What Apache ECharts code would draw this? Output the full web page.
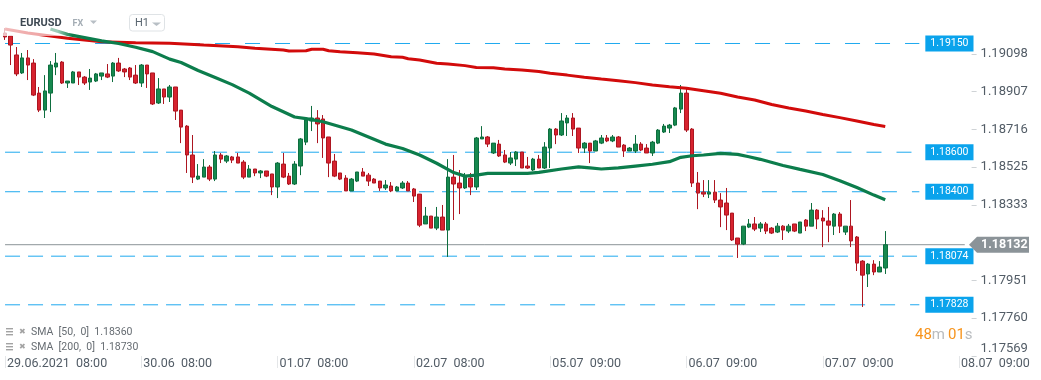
<!DOCTYPE html>
<html><head><meta charset="utf-8">
<script src="https://cdn.jsdelivr.net/npm/echarts@6/dist/echarts.min.js"></script>
<style>html,body{margin:0;padding:0;background:#fff;}#c{width:1041px;height:380px;}</style>
</head><body><div id="c"></div>
<script>
// ---- data ----
const tickLabels = ['29.06.2021  08:00','30.06  08:00','01.07  08:00','02.07  08:00','05.07  09:00','06.07  09:00','07.07  09:00','08.07  09:00'];
const yTicks = [1.17569,1.17760,1.17951,1.18333,1.18525,1.18716,1.18907,1.19098];
const levels = [1.19150,1.18600,1.18400,1.18074,1.17828];
const lastPrice = 1.18132;
const sma50Last = 1.18360, sma200Last = 1.18730;

const opens = [1.19203,1.19188,1.19092,1.19001,1.19077,1.19051,1.18899,1.18813,1.18899,1.19031,
1.19056,1.18950,1.18950,1.19006,1.18980,1.18955,1.18960,1.18985,1.18996,1.18985,
1.19051,1.19021,1.19026,1.18990,1.18950,1.19041,1.19001,1.18849,1.18920,1.18879,
1.18930,1.18813,1.18732,1.18586,1.18464,1.18474,1.18525,1.18464,1.18586,1.18555,
1.18576,1.18576,1.18550,1.18474,1.18515,1.18495,1.18505,1.18490,1.18424,1.18540,
1.18479,1.18439,1.18530,1.18651,1.18758,1.18773,1.18768,1.18677,1.18555,1.18495,
1.18469,1.18404,1.18454,1.18500,1.18484,1.18464,1.18454,1.18419,1.18429,1.18404,
1.18419,1.18444,1.18414,1.18388,1.18237,1.18277,1.18216,1.18272,1.18206,1.18474,
1.18444,1.18419,1.18469,1.18424,1.18667,1.18677,1.18596,1.18641,1.18586,1.18545,
1.18565,1.18601,1.18530,1.18510,1.18565,1.18520,1.18621,1.18717,1.18687,1.18748,
1.18773,1.18722,1.18621,1.18646,1.18606,1.18646,1.18672,1.18657,1.18677,1.18636,
1.18606,1.18606,1.18641,1.18621,1.18596,1.18646,1.18702,1.18722,1.18737,1.18818,
1.18899,1.18717,1.18444,1.18398,1.18388,1.18398,1.18358,1.18343,1.18292,1.18166,
1.18135,1.18221,1.18237,1.18216,1.18237,1.18216,1.18196,1.18226,1.18201,1.18237,
1.18191,1.18257,1.18226,1.18307,1.18267,1.18252,1.18226,1.18287,1.18196,1.18226,
1.18171,1.18049,1.17984,1.18034,1.17994,1.18014];
const closes = [1.19183,1.19142,1.18996,1.19077,1.19041,1.18889,1.18813,1.18910,1.19041,1.19051,
1.18950,1.18960,1.19006,1.18980,1.18950,1.18975,1.18996,1.19001,1.18980,1.19051,
1.19011,1.19006,1.18980,1.18950,1.19041,1.18996,1.18844,1.18920,1.18879,1.18930,
1.18808,1.18727,1.18586,1.18474,1.18479,1.18525,1.18464,1.18586,1.18565,1.18581,
1.18560,1.18545,1.18474,1.18515,1.18495,1.18505,1.18479,1.18424,1.18545,1.18474,
1.18439,1.18540,1.18667,1.18763,1.18773,1.18743,1.18672,1.18545,1.18479,1.18464,
1.18404,1.18464,1.18500,1.18479,1.18454,1.18444,1.18419,1.18434,1.18404,1.18424,
1.18444,1.18404,1.18378,1.18231,1.18277,1.18216,1.18272,1.18206,1.18474,1.18439,
1.18419,1.18474,1.18424,1.18672,1.18677,1.18641,1.18646,1.18581,1.18550,1.18571,
1.18601,1.18520,1.18520,1.18565,1.18520,1.18626,1.18717,1.18687,1.18758,1.18773,
1.18717,1.18621,1.18646,1.18606,1.18657,1.18672,1.18657,1.18677,1.18626,1.18606,
1.18621,1.18641,1.18611,1.18596,1.18651,1.18712,1.18732,1.18737,1.18824,1.18899,
1.18712,1.18444,1.18393,1.18388,1.18398,1.18358,1.18323,1.18282,1.18156,1.18135,
1.18226,1.18237,1.18211,1.18237,1.18201,1.18191,1.18226,1.18206,1.18226,1.18201,
1.18247,1.18226,1.18307,1.18262,1.18252,1.18231,1.18287,1.18226,1.18226,1.18151,
1.18039,1.17978,1.18034,1.17994,1.18019,1.18132];
const lows = [1.19168,1.19041,1.18985,1.18996,1.18965,1.18884,1.18803,1.18773,1.18803,1.18990,
1.18945,1.18925,1.18950,1.18940,1.18940,1.18915,1.18955,1.18965,1.18975,1.18955,
1.19006,1.18980,1.18965,1.18945,1.18930,1.18925,1.18839,1.18844,1.18844,1.18854,
1.18763,1.18646,1.18495,1.18444,1.18459,1.18474,1.18454,1.18454,1.18545,1.18545,
1.18545,1.18545,1.18464,1.18474,1.18479,1.18469,1.18474,1.18383,1.18368,1.18469,
1.18434,1.18434,1.18484,1.18636,1.18707,1.18646,1.18571,1.18474,1.18474,1.18459,
1.18404,1.18404,1.18449,1.18479,1.18429,1.18444,1.18404,1.18409,1.18398,1.18404,
1.18414,1.18404,1.18348,1.18221,1.18237,1.18216,1.18206,1.18206,1.18070,1.18257,
1.18287,1.18414,1.18383,1.18409,1.18667,1.18626,1.18591,1.18576,1.18545,1.18535,
1.18530,1.18520,1.18515,1.18505,1.18520,1.18515,1.18520,1.18641,1.18682,1.18682,
1.18682,1.18596,1.18596,1.18545,1.18606,1.18641,1.18651,1.18651,1.18626,1.18576,
1.18606,1.18596,1.18606,1.18596,1.18581,1.18641,1.18697,1.18697,1.18732,1.18798,
1.18702,1.18424,1.18312,1.18373,1.18368,1.18343,1.18221,1.18206,1.18151,1.18065,
1.18130,1.18216,1.18201,1.18196,1.18186,1.18186,1.18191,1.18156,1.18191,1.18196,
1.18191,1.18201,1.18226,1.18211,1.18120,1.18145,1.18181,1.18191,1.18181,1.18120,
1.17999,1.17817,1.17918,1.17978,1.17994,1.17984];
const highs = [1.19228,1.19188,1.19132,1.19102,1.19117,1.19071,1.18930,1.18990,1.19061,1.19102,
1.19061,1.18960,1.19011,1.19006,1.18985,1.19021,1.19001,1.19001,1.19046,1.19056,
1.19077,1.19026,1.19031,1.19041,1.19046,1.19041,1.19001,1.18975,1.18920,1.18940,
1.18930,1.18813,1.18737,1.18687,1.18540,1.18565,1.18535,1.18606,1.18596,1.18586,
1.18581,1.18596,1.18560,1.18535,1.18515,1.18510,1.18505,1.18490,1.18550,1.18596,
1.18495,1.18555,1.18672,1.18773,1.18834,1.18813,1.18788,1.18677,1.18591,1.18495,
1.18484,1.18469,1.18500,1.18520,1.18495,1.18469,1.18454,1.18459,1.18449,1.18429,
1.18454,1.18454,1.18419,1.18388,1.18323,1.18277,1.18323,1.18333,1.18565,1.18586,
1.18510,1.18495,1.18495,1.18677,1.18732,1.18682,1.18646,1.18662,1.18611,1.18601,
1.18606,1.18601,1.18576,1.18571,1.18586,1.18651,1.18722,1.18722,1.18798,1.18788,
1.18798,1.18722,1.18651,1.18646,1.18662,1.18687,1.18687,1.18687,1.18682,1.18641,
1.18626,1.18687,1.18651,1.18641,1.18657,1.18717,1.18743,1.18743,1.18829,1.18940,
1.18920,1.18722,1.18500,1.18459,1.18459,1.18459,1.18393,1.18419,1.18292,1.18166,
1.18226,1.18262,1.18272,1.18247,1.18247,1.18221,1.18242,1.18231,1.18237,1.18237,
1.18247,1.18262,1.18343,1.18312,1.18307,1.18323,1.18292,1.18297,1.18226,1.18358,
1.18176,1.18054,1.18039,1.18054,1.18049,1.18201];

// SMA points [candle index, value]
const sma200 = [[0,1.19223],[4,1.19203],[11,1.19176],[17,1.19159],[23,1.19154],[29,1.19151],[35,1.19142],[41,1.19134],[44,1.19126],[49,1.19117],[50,1.19112],[53,1.19113],[54,1.19121],[56,1.19121],[57,1.19113],[59,1.19108],[62,1.19103],[65,1.19097],[68,1.19083],[70,1.19080],[71,1.19073],[73,1.19066],[76,1.19050],[78,1.19046],[81,1.19038],[83,1.19029],[86,1.19027],[88,1.19021],[91,1.19016],[94,1.19008],[96,1.18999],[99,1.18990],[102,1.18979],[105,1.18970],[108,1.18962],[111,1.18952],[114,1.18940],[117,1.18931],[120,1.18923],[123,1.18911],[126,1.18898],[129,1.18879],[132,1.18864],[135,1.18841],[138,1.18824],[141,1.18808],[144,1.18791],[147,1.18775],[150,1.18758],[153,1.18740],[155,1.18730]];
const sma50 = [[8,1.19223],[11,1.19196],[14,1.19180],[17,1.19163],[20,1.19150],[23,1.19131],[26,1.19109],[29,1.19071],[31,1.19054],[34,1.19013],[37,1.18978],[40,1.18942],[43,1.18899],[47,1.18831],[51,1.18778],[53,1.18770],[56,1.18754],[61,1.18712],[67,1.18641],[70,1.18619],[73,1.18586],[76,1.18544],[79,1.18497],[81,1.18479],[83,1.18484],[85,1.18493],[88,1.18493],[92,1.18493],[94,1.18498],[98,1.18515],[101,1.18526],[103,1.18521],[105,1.18515],[108,1.18521],[111,1.18530],[114,1.18539],[117,1.18552],[119,1.18574],[121,1.18582],[123,1.18586],[126,1.18594],[129,1.18589],[131,1.18577],[133,1.18564],[137,1.18533],[140,1.18513],[144,1.18487],[147,1.18456],[150,1.18421],[153,1.18383],[155,1.18360]];

// ---- layout / style ----
const SLOTS = 170;
const categories = Array.from({length: SLOTS}, (_, i) => String(i));
const FONT = 'Roboto';
const dashStyle = [ // dash segments per level: [fromIdx, toIdx, dash]
  [[0,161,[15,15]]],
  [[0,120,[15,8]],[120,161,[15,15]]],
  [[0,128,[15,8]],[128,161,[15,15]]],
  [[0,161,[15,8]]],
  [[0,59,[15,8]],[59,161,[15,15]]]
];
const lvlColor = '#1fa9ef';

const levelSeries = [];
levels.forEach((v, k) => {
  const segs = dashStyle[k];
  segs.forEach((s, j) => {
    const last = j === segs.length - 1;
    levelSeries.push({
      type: 'line', name: 'lvl' + k + '_' + j, data: [[s[0], v], [s[1], v]], symbol: 'none', showSymbol: false, silent: true, z: 1,
      color: lvlColor, itemStyle: { color: lvlColor },
      lineStyle: { color: lvlColor, width: 1, type: s[2].slice(), opacity: 1 },
      emphasis: { disabled: true },
      endLabel: last ? { show: true, distance: 6, formatter: v.toFixed(5), backgroundColor: '#0aa3ec', color: '#fff',
        fontSize: 10.5, fontFamily: FONT, padding: [3, 5, 2, 5] } : { show: false }
    });
  });
});
const priceLine = { type: 'line', name: 'price', data: [[0, lastPrice], [SLOTS - 1, lastPrice]], symbol: 'none', showSymbol: false, silent: true, z: 1,
  color: '#8c9498', lineStyle: { color: '#8c9498', width: 1 }, emphasis: { disabled: true } };

const candleData = opens.map((o, i) => [o, closes[i], lows[i], highs[i]]);

const chart = echarts.init(document.getElementById('c'), null, { renderer: 'canvas' });
const baseGraphic = [
  { type: 'rect', z: 100, shape: { x: 0, y: 12, width: 72, height: 24 },
    style: { fill: new echarts.graphic.LinearGradient(0, 0, 1, 0, [
      { offset: 0, color: 'rgba(255,255,255,0.72)' }, { offset: 0.8, color: 'rgba(255,255,255,0.6)' }, { offset: 1, color: 'rgba(255,255,255,0)' }]) } },
  { type: 'text', z: 101, x: 20, y: 23.5, style: { text: 'EURUSD', fontSize: 11, fontWeight: 'bold', fill: '#3d4852', fontFamily: FONT, verticalAlign: 'middle' } },
  { type: 'text', z: 101, x: 72.5, y: 24, style: { text: 'FX', fontSize: 9, fontWeight: 'bold', fill: '#a4adb5', fontFamily: FONT, verticalAlign: 'middle' } },
  { type: 'polygon', z: 101, shape: { points: [[90, 20.5], [97, 20.5], [93.5, 24]] }, style: { fill: '#b8bfc5' } },
  { type: 'rect', z: 101, shape: { x: 129.5, y: 14.5, width: 35, height: 16.5, r: 3 }, style: { fill: '#fff', stroke: '#dfe3e6', lineWidth: 1 } },
  { type: 'text', z: 102, x: 135, y: 23.5, style: { text: 'H1', fontSize: 11, fill: '#5a6670', fontFamily: FONT, verticalAlign: 'middle' } },
  { type: 'polygon', z: 102, shape: { points: [[152, 22.5], [161, 22.5], [156.5, 26]] }, style: { fill: '#b8bfc5' } },
  { type: 'rect', z: 101, shape: { x: 6, y: 328, width: 7, height: 1.4 }, style: { fill: '#a3a3a3' } },
  { type: 'rect', z: 101, shape: { x: 6, y: 331, width: 7, height: 1.4 }, style: { fill: '#a3a3a3' } },
  { type: 'rect', z: 101, shape: { x: 6, y: 334, width: 7, height: 1.4 }, style: { fill: '#a3a3a3' } },
  { type: 'text', z: 101, x: 19, y: 331.5, style: { text: '✖', fontSize: 8, fill: '#a3a3a3', verticalAlign: 'middle' } },
  { type: 'text', z: 101, x: 31, y: 332, style: { text: 'SMA  [50,  0]  ' + sma50Last.toFixed(5), fontSize: 10.5, fill: '#666c72', fontFamily: FONT, verticalAlign: 'middle' } },
  { type: 'rect', z: 101, shape: { x: 6, y: 343, width: 7, height: 1.4 }, style: { fill: '#a3a3a3' } },
  { type: 'rect', z: 101, shape: { x: 6, y: 346, width: 7, height: 1.4 }, style: { fill: '#a3a3a3' } },
  { type: 'rect', z: 101, shape: { x: 6, y: 349, width: 7, height: 1.4 }, style: { fill: '#a3a3a3' } },
  { type: 'text', z: 101, x: 19, y: 346.5, style: { text: '✖', fontSize: 8, fill: '#a3a3a3', verticalAlign: 'middle' } },
  { type: 'text', z: 101, x: 31, y: 347, style: { text: 'SMA  [200,  0]  ' + sma200Last.toFixed(5), fontSize: 10.5, fill: '#666c72', fontFamily: FONT, verticalAlign: 'middle' } },
  { type: 'text', z: 101, x: 915, y: 335, style: { text: '{o|48}{g|m} {o|01}{g|s}', verticalAlign: 'middle', fontFamily: FONT,
    rich: { o: { fontSize: 15, fill: '#f7941d', fontFamily: FONT }, g: { fontSize: 15, fill: '#b9bcbf', fontFamily: FONT } } } }
];

const option = {
  animation: false,
  backgroundColor: '#fff',
  color: [lvlColor],
  grid: { left: 2.2, right: 73.4, top: 0, bottom: 24, containLabel: false },
  xAxis: {
    type: 'category', data: categories, boundaryGap: true,
    axisLine: { show: false },
    axisTick: { show: true, alignWithLabel: true, length: 12, interval: (i) => i % 24 === 0, lineStyle: { color: '#e4e6e8' } },
    axisLabel: { show: true, interval: (i) => i % 24 === 0, align: 'left', margin: 1, padding: [0, 0, 0, 2],
      fontSize: 12.5, color: '#525c66', fontFamily: FONT,
      formatter: (val, idx) => (idx % 24 === 0 ? (tickLabels[idx / 24] || '') : '') },
    splitLine: { show: false }
  },
  yAxis: {
    type: 'value', position: 'right', offset: 4, min: 1.17569, max: 1.19370, scale: true,
    splitLine: { show: false }, axisLine: { show: false },
    axisTick: { show: true, length: 5, customValues: yTicks, lineStyle: { color: '#cfd3d6' } },
    axisLabel: { show: true, margin: 9, customValues: yTicks, fontSize: 13, color: '#525c66', fontFamily: FONT,
      formatter: (v) => { const s = Number(v).toFixed(5); return Math.abs(v - yTicks[0]) < 1e-7 ? '{lo|' + s + '}' : s; },
      rich: { lo: { padding: [0, 0, 14, 0], fontSize: 13, color: '#525c66', fontFamily: FONT } } }
  },
  series: [
    {
      type: 'candlestick', name: 'EURUSD', data: candleData, barWidth: 4, z: 2,
      itemStyle: { color: '#16894f', color0: '#d7232f', borderColor: '#0e6e3f', borderColor0: '#ad1621', borderWidth: 1 }
    }
  ].concat(levelSeries, [priceLine,
    { type: 'line', name: 'sma200', data: sma200, showSymbol: false, symbol: 'none', z: 4, silent: true, color: '#d20b0b',
      lineStyle: { color: '#d20b0b', width: 3 }, itemStyle: { color: '#d20b0b' } },
    { type: 'line', name: 'sma50', data: sma50, showSymbol: false, symbol: 'none', z: 4, silent: true, color: '#0c7d4c',
      lineStyle: { color: '#0c7d4c', width: 3.2 }, itemStyle: { color: '#0c7d4c' } }
  ]),
  graphic: baseGraphic
};
chart.setOption(option);

// current price tag, positioned through the y scale
const py = chart.convertToPixel({ yAxisIndex: 0 }, lastPrice);
const tagLeft = 969, tagRight = 1029;
chart.setOption({ graphic: baseGraphic.concat([
  { type: 'polygon', z: 110, shape: { points: [[tagLeft, py], [tagLeft + 8, py - 8], [tagRight, py - 8], [tagRight, py + 8], [tagLeft + 8, py + 8]] }, style: { fill: '#8b9398' } },
  { type: 'text', z: 111, x: tagLeft + 12, y: py + 0.5, style: { text: lastPrice.toFixed(5), fontSize: 12.5, fontWeight: 'bold', fill: '#fff', fontFamily: FONT, verticalAlign: 'middle' } }
]) });
</script></body></html>
